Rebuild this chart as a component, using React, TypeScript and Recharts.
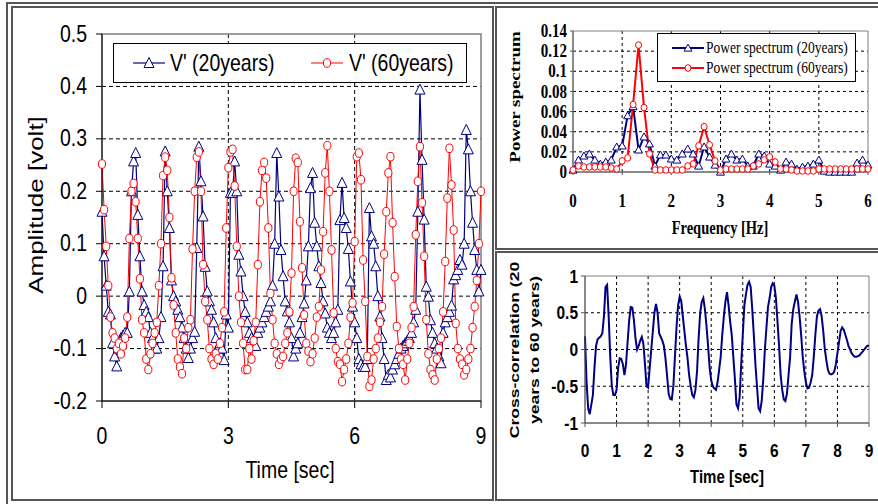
import React from "react";
import { LineChart, Line, XAxis, YAxis, CartesianGrid, Legend, ReferenceArea } from "recharts";

const SANS = "'Liberation Sans', Arial, Helvetica, sans-serif";
const SERIF = "'Liberation Serif', 'Times New Roman', serif";
const NAVY = "#000080";
const RED = "#ff0000";

const DT = 0.05; // sampling step [sec]
const DF = 1 / 9; // spectrum resolution [Hz]

// V' (20years), one value every 0.05 s from 0 to 9 s
const v20 = [
  0.161, 0.076, 0.02, -0.03, -0.035, -0.09, -0.115, -0.134, -0.1, -0.08,
  -0.075, -0.07, -0.07, 0.009, 0.2, 0.257, 0.273, 0.155, 0.076, 0.009,
  -0.017, -0.03, -0.04, -0.07, -0.08, -0.1, -0.1, -0.08, -0.04, 0.057,
  0.276, 0.2, 0.13, 0.03, 0.0, -0.01, -0.026, -0.04, -0.06, -0.08,
  -0.1, -0.118, -0.1, -0.08, -0.068, 0.092, 0.285, 0.219, 0.152, 0.056,
  0.009, -0.01, -0.026, -0.05, -0.08, -0.1, -0.09, -0.1, -0.122, -0.035,
  -0.06, 0.197, 0.197, 0.257, 0.2, 0.079, 0.047, 0.0, -0.03, -0.05,
  -0.07, -0.08, -0.09, -0.095, -0.07, -0.06, -0.05, -0.04, -0.03, -0.02,
  -0.01, 0.02, 0.1, 0.273, 0.19, 0.088, 0.038, -0.01, -0.029, -0.05,
  -0.08, -0.115, -0.1, -0.09, -0.07, -0.04, -0.014, 0.03, 0.095, 0.206,
  0.235, 0.14, 0.095, 0.057, 0.025, -0.01, -0.033, -0.06, -0.07, -0.08,
  -0.07, -0.05, -0.026, 0.145, 0.216, 0.149, 0.13, 0.09, 0.028, -0.02,
  -0.05, -0.08, -0.12, -0.13, -0.135, -0.135, -0.12, 0.168, 0.114, 0.1,
  0.057, 0.0, -0.039, -0.08, -0.12, -0.16, -0.15, -0.155, -0.14, -0.13,
  -0.12, -0.11, -0.1, -0.095, -0.09, -0.085, -0.08, -0.07, -0.05, -0.026,
  0.161, 0.394, 0.26, 0.146, 0.018, -0.001, -0.046, -0.07, -0.09, -0.1,
  -0.115, -0.128, -0.07, -0.05, -0.04, -0.03, -0.018, 0.032, 0.04, 0.05,
  0.069, 0.06, 0.1, 0.317, 0.28, 0.2, 0.14, 0.088, 0.05, 0.009,
  0.05,
];

// V' (60years)
const v60 = [
  0.252, 0.165, 0.095, 0.02, -0.04, -0.07, -0.08, -0.1, -0.09, -0.11,
  -0.095, -0.08, -0.04, 0.11, 0.2, 0.215, 0.18, 0.11, 0.033, -0.045,
  -0.07, -0.12, -0.14, -0.11, -0.09, -0.07, -0.05, 0.02, 0.1, 0.23,
  0.265, 0.24, 0.15, 0.035, -0.017, -0.07, -0.12, -0.135, -0.148, -0.08,
  -0.1, -0.06, -0.045, 0.09, 0.2, 0.265, 0.275, 0.2, 0.06, -0.01,
  -0.045, -0.1, -0.12, -0.13, -0.11, -0.12, -0.09, -0.06, -0.03, 0.13,
  0.245, 0.275, 0.28, 0.21, 0.095, 0.0, -0.05, -0.09, -0.14, -0.14,
  -0.1, -0.12, -0.085, -0.05, 0.06, 0.18, 0.24, 0.255, 0.225, 0.13,
  0.005, -0.045, -0.09, -0.11, -0.13, -0.12, -0.115, -0.09, -0.07, -0.03,
  0.044, 0.2, 0.263, 0.255, 0.142, 0.054, -0.036, -0.09, -0.105, -0.125,
  -0.11, -0.08, -0.04, -0.02, 0.05, 0.123, 0.235, 0.287, 0.2, 0.088,
  -0.032, -0.1, -0.125, -0.13, -0.163, -0.14, -0.12, -0.09, -0.04, -0.013,
  0.104, 0.266, 0.273, 0.222, 0.069, -0.01, -0.115, -0.172, -0.16, -0.12,
  -0.1, -0.08, -0.05, -0.02, 0.08, 0.161, 0.235, 0.266, 0.14, 0.037,
  -0.058, -0.1, -0.12, -0.13, -0.16, -0.12, -0.09, -0.06, -0.02, 0.117,
  0.219, 0.285, 0.178, 0.076, -0.045, -0.11, -0.14, -0.15, -0.16, -0.12,
  -0.1, -0.08, -0.03, 0.066, 0.187, 0.282, 0.212, 0.126, -0.052, -0.1,
  -0.12, -0.13, -0.15, -0.14, -0.12, -0.1, -0.06, -0.02, 0.03, 0.1,
  0.2,
];

// power spectrum, one value every 1/9 Hz from 0 to 6 Hz
const ps20 = [
  0.002, 0.012, 0.016, 0.018, 0.012, 0.008, 0.01, 0.012, 0.025, 0.026,
  0.056, 0.065, 0.022, 0.035, 0.028, 0.006, 0.017, 0.017, 0.013, 0.012,
  0.018, 0.023, 0.018, 0.006, 0.025, 0.015, 0.007, 0.0, 0.013, 0.018,
  0.012, 0.013, 0.006, 0.006, 0.018, 0.016, 0.008, 0.006, 0.002, 0.01,
  0.008, 0.003, 0.005, 0.006, 0.008, 0.012, 0.001, 0.0, 0.0, 0.0,
  0.0, 0.0, 0.009, 0.012, 0.007,
];
const ps60 = [
  0.002, 0.006, 0.005, 0.005, 0.005, 0.005, 0.005, 0.004, 0.003, 0.011,
  0.014, 0.067, 0.126, 0.064, 0.018, 0.002, 0.002, 0.002, 0.002, 0.002,
  0.002, 0.006, 0.008, 0.026, 0.045, 0.027, 0.011, 0.002, 0.003, 0.003,
  0.003, 0.003, 0.003, 0.006, 0.008, 0.012, 0.015, 0.01, 0.003, 0.003,
  0.002, 0.001, 0.001, 0.001, 0.001, 0.003, 0.003, 0.003, 0.003, 0.003,
  0.003, 0.003, 0.003, 0.003, 0.003,
];

// cross-correlation 20 years to 60 years, every 0.05 s
const xcorr = [
  0.18, -0.45, -0.8, -0.88, -0.75, -0.62, -0.25, 0.05, 0.14, 0.16,
  0.18, 0.22, 0.45, 0.85, 0.88, 0.45, -0.1, -0.5, -0.62, -0.62,
  -0.55, -0.25, -0.12, -0.13, -0.2, -0.35, -0.2, 0.1, 0.4, 0.58,
  0.57, 0.4, 0.15, 0.0, 0.05, 0.12, 0.17, 0.08, -0.2, -0.5,
  -0.52, -0.25, 0.0, 0.25, 0.5, 0.62, 0.5, 0.22, 0.17, 0.12,
  0.05, -0.12, -0.35, -0.6, -0.67, -0.68, -0.5, -0.1, 0.3, 0.6,
  0.72, 0.66, 0.45, 0.25, 0.05, -0.12, -0.35, -0.5, -0.62, -0.65,
  -0.55, -0.3, 0.15, 0.5, 0.65, 0.7, 0.55, 0.32, 0.05, -0.25,
  -0.42, -0.5, -0.53, -0.55, -0.45, -0.28, -0.1, 0.2, 0.45, 0.65,
  0.78, 0.6, 0.38, 0.2, -0.1, -0.4, -0.75, -0.8, -0.65, -0.2,
  0.2, 0.6, 0.75, 0.88, 0.92, 0.85, 0.55, 0.2, -0.2, -0.5,
  -0.8, -0.84, -0.7, -0.4, 0.0, 0.3, 0.58, 0.7, 0.85, 0.9,
  0.87, 0.7, 0.38, 0.05, -0.35, -0.55, -0.68, -0.7, -0.6, -0.35,
  -0.1, 0.35, 0.55, 0.65, 0.75, 0.65, 0.45, 0.2, -0.1, -0.3,
  -0.45, -0.53, -0.52, -0.45, -0.35, -0.1, 0.2, 0.45, 0.53, 0.55,
  0.45, 0.25, 0.0, -0.15, -0.28, -0.33, -0.34, -0.33, -0.3, -0.2,
  -0.05, 0.1, 0.25, 0.3, 0.27, 0.2, 0.13, 0.05, 0.0, -0.05,
  -0.08, -0.1, -0.1, -0.09, -0.08, -0.05, -0.03, 0.0, 0.03, 0.05,
  0.05,
];

const ampTicksX = [0, 3, 6, 9];
const ampTicksY = [-0.2, -0.1, 0, 0.1, 0.2, 0.3, 0.4, 0.5];
const psTicksX = [0, 1, 2, 3, 4, 5, 6];
const psTicksY = [0, 0.02, 0.04, 0.06, 0.08, 0.1, 0.12, 0.14];
const ccTicksX = [0, 1, 2, 3, 4, 5, 6, 7, 8, 9];
const ccTicksY = [-1, -0.5, 0, 0.5, 1];

const ampData = v20.map((v, i) => ({ t: +(i * DT).toFixed(2), v20: v, v60: v60[i] }));
const psData = ps20.map((v, i) => ({ f: i * DF, p20: v, p60: ps60[i] }));
const ccData = xcorr.map((v, i) => ({ t: +(i * DT).toFixed(2), r: v }));

const fmt = (v: number) => String(Number(v.toFixed(2)));

type TxtProps = {
  x: number;
  y: number;
  children: React.ReactNode;
  size: number;
  family?: string;
  bold?: boolean;
  anchor?: "start" | "middle" | "end";
  sx?: number;
  sy?: number;
  rot?: number;
};

// the source picture is stretched vertically, so text gets a scale
function Txt({ x, y, children, size, family = SANS, bold = false, anchor = "middle", sx = 1, sy = 1, rot = 0 }: TxtProps) {
  const tf = `translate(${x} ${y})${rot ? ` rotate(${rot})` : ""} scale(${sx} ${sy})`;
  return (
    <text
      transform={tf}
      textAnchor={anchor}
      dominantBaseline="central"
      fontFamily={family}
      fontSize={size}
      fontWeight={bold ? 700 : 400}
      fill="#000"
    >
      {children}
    </text>
  );
}

function Tri({ cx, cy, w, h, color }: { cx?: number; cy?: number; w: number; h: number; color: string }) {
  if (cx == null || cy == null) return null;
  const pts = `${cx},${cy - h * 0.55} ${cx + w / 2},${cy + h * 0.45} ${cx - w / 2},${cy + h * 0.45}`;
  return <polygon points={pts} fill="#fff" stroke={color} strokeWidth={1} />;
}

function Ring({ cx, cy, rx, ry, color }: { cx?: number; cy?: number; rx: number; ry: number; color: string }) {
  if (cx == null || cy == null) return null;
  return <ellipse cx={cx} cy={cy} rx={rx} ry={ry} fill="#fff" stroke={color} strokeWidth={1} />;
}

function AmpLegend() {
  return (
    <svg width={354} height={40} style={{ display: "block" }}>
      <rect x={0.5} y={0.5} width={353} height={39} fill="#fff" stroke="#000" />
      <line x1={20} x2={52} y1={20} y2={20} stroke={NAVY} strokeWidth={1.2} />
      <Tri cx={36} cy={20} w={10} h={10} color={NAVY} />
      <Txt x={57} y={20} anchor="start" size={19.5} sy={1.2}>V' (20years)</Txt>
      <line x1={198} x2={230} y1={20} y2={20} stroke={RED} />
      <Ring cx={214} cy={20} rx={3.6} ry={4.3} color={RED} />
      <Txt x={236} y={20} anchor="start" size={19.5} sy={1.2}>V' (60years)</Txt>
    </svg>
  );
}

function PsLegend() {
  return (
    <svg width={199} height={49} style={{ display: "block" }}>
      <rect x={0.5} y={0.5} width={198} height={48} fill="#fff" stroke="#000" />
      <line x1={15} x2={47} y1={15} y2={15} stroke={NAVY} strokeWidth={2} />
      <Tri cx={31} cy={15} w={8} h={7} color={NAVY} />
      <Txt x={49} y={15} anchor="start" size={13.5} family={SERIF} sy={1.2}>Power spectrum (20years)</Txt>
      <line x1={15} x2={47} y1={35} y2={35} stroke={RED} strokeWidth={2} />
      <Ring cx={31} cy={35} rx={3} ry={3.3} color={RED} />
      <Txt x={49} y={35} anchor="start" size={13.5} family={SERIF} sy={1.2}>Power spectrum (60years)</Txt>
    </svg>
  );
}

function AmplitudeChart() {
  return (
    <div style={{ position: "absolute", left: 12, top: 7 }}>
      <LineChart width={481} height={493} data={ampData} margin={{ top: 27, right: 12, bottom: 39, left: 0 }}>
        <CartesianGrid
          stroke="#000"
          strokeDasharray="4 3"
          horizontalValues={[-0.1, 0, 0.1, 0.2, 0.3, 0.4]}
          verticalValues={[3, 6]}
        />
        <ReferenceArea x1={0} x2={9} y1={-0.2} y2={0.5} fill="none" stroke="#7f7f7f" strokeWidth={1.5} />
        <XAxis
          type="number"
          dataKey="t"
          domain={[0, 9]}
          ticks={ampTicksX}
          interval={0}
          height={60}
          stroke="#000"
          tickSize={7}
          tickMargin={0}
          tick={(p: any) => (
            <Txt x={p.x} y={p.y + 28} size={19.5} sy={1.2}>{fmt(p.payload.value)}</Txt>
          )}
        />
        <YAxis
          type="number"
          domain={[-0.2, 0.5]}
          ticks={ampTicksY}
          interval={0}
          width={90}
          stroke="#000"
          tickSize={6}
          tickMargin={9}
          tick={(p: any) => (
            <Txt x={p.x} y={p.y} anchor="end" size={19.5} sy={1.2}>{fmt(p.payload.value)}</Txt>
          )}
        />
        <Legend
          verticalAlign="middle"
          align="center"
          wrapperStyle={{ left: 101, top: 36, width: 354, height: 40 }}
          content={() => <AmpLegend />}
        />
        <Line
          type="linear"
          dataKey="v20"
          name="V' (20years)"
          stroke={NAVY}
          strokeWidth={1.2}
          dot={(p: any) => <Tri key={`b${p.index}`} cx={p.cx} cy={p.cy} w={10} h={10} color={NAVY} />}
          activeDot={false}
          isAnimationActive={false}
        />
        <Line
          type="linear"
          dataKey="v60"
          name="V' (60years)"
          stroke={RED}
          strokeWidth={1}
          dot={(p: any) => <Ring key={`r${p.index}`} cx={p.cx} cy={p.cy} rx={3.6} ry={4.3} color={RED} />}
          activeDot={false}
          isAnimationActive={false}
        />
      </LineChart>
    </div>
  );
}

function SpectrumChart() {
  return (
    <div style={{ position: "absolute", left: 496, top: 7 }}>
      <LineChart width={382} height={241} data={psData} margin={{ top: 24, right: 10, bottom: 36, left: 0 }}>
        <CartesianGrid
          stroke="#000"
          strokeDasharray="3 3"
          horizontalValues={[0.02, 0.04, 0.06, 0.08, 0.1, 0.12]}
          verticalValues={[1, 2, 3, 4, 5]}
        />
        <ReferenceArea x1={0} x2={6} y1={0} y2={0.14} fill="none" stroke="#7f7f7f" strokeWidth={1} />
        <XAxis
          type="number"
          dataKey="f"
          domain={[0, 6]}
          ticks={psTicksX}
          interval={0}
          height={40}
          stroke="#555"
          tickSize={3}
          tickMargin={0}
          tick={(p: any) => (
            <Txt x={p.x} y={p.y + 26} size={15} family={SERIF} bold sy={1.28}>{fmt(p.payload.value)}</Txt>
          )}
        />
        <YAxis
          type="number"
          domain={[0, 0.14]}
          ticks={psTicksY}
          interval={0}
          width={77}
          stroke="#555"
          tickSize={3}
          tickMargin={3}
          tick={(p: any) => (
            <Txt x={p.x} y={p.y} anchor="end" size={15} family={SERIF} bold sy={1.28}>{fmt(p.payload.value)}</Txt>
          )}
        />
        <Legend
          verticalAlign="middle"
          align="center"
          wrapperStyle={{ left: 161, top: 26, width: 199, height: 49 }}
          content={() => <PsLegend />}
        />
        <Line
          type="linear"
          dataKey="p20"
          name="Power spectrum (20years)"
          stroke={NAVY}
          strokeWidth={2}
          dot={(p: any) => <Tri key={`pb${p.index}`} cx={p.cx} cy={p.cy} w={8} h={7} color={NAVY} />}
          activeDot={false}
          isAnimationActive={false}
        />
        <Line
          type="linear"
          dataKey="p60"
          name="Power spectrum (60years)"
          stroke={RED}
          strokeWidth={2}
          dot={(p: any) => <Ring key={`pr${p.index}`} cx={p.cx} cy={p.cy} rx={3} ry={3.3} color={RED} />}
          activeDot={false}
          isAnimationActive={false}
        />
      </LineChart>
    </div>
  );
}

function CorrelationChart() {
  return (
    <div style={{ position: "absolute", left: 496, top: 252 }}>
      <LineChart width={382} height={248} data={ccData} margin={{ top: 24, right: 9, bottom: 37, left: 0 }}>
        <CartesianGrid
          stroke="#000"
          strokeDasharray="3 3"
          horizontalValues={[-0.5, 0, 0.5]}
          verticalValues={[1, 2, 3, 4, 5, 6, 7, 8]}
        />
        <ReferenceArea x1={0} x2={9} y1={-1} y2={1} fill="none" stroke="#7f7f7f" strokeWidth={1} />
        <XAxis
          type="number"
          dataKey="t"
          domain={[0, 9]}
          ticks={ccTicksX}
          interval={0}
          height={40}
          stroke="#555"
          tickSize={4}
          tickMargin={0}
          tick={(p: any) => (
            <Txt x={p.x} y={p.y + 23} size={15.5} bold sy={1.22}>{fmt(p.payload.value)}</Txt>
          )}
        />
        <YAxis
          type="number"
          domain={[-1, 1]}
          ticks={ccTicksY}
          interval={0}
          width={89}
          stroke="#555"
          tickSize={4}
          tickMargin={3}
          tick={(p: any) => (
            <Txt x={p.x} y={p.y} anchor="end" size={15.5} bold sy={1.22}>{fmt(p.payload.value)}</Txt>
          )}
        />
        <Line
          type="linear"
          dataKey="r"
          name="Cross-correlation"
          stroke={NAVY}
          strokeWidth={2}
          dot={false}
          activeDot={false}
          isAnimationActive={false}
        />
      </LineChart>
    </div>
  );
}

function Titles() {
  return (
    <svg width={878} height={504} style={{ position: "absolute", left: 0, top: 0, pointerEvents: "none" }}>
      <Txt x={36} y={205} size={20} rot={-90} sx={1.3}>Amplitude [volt]</Txt>
      <Txt x={290} y={470} size={19.5} sy={1.2}>Time [sec]</Txt>
      <Txt x={515} y={97} size={15.5} family={SERIF} bold rot={-90} sx={1.22}>Power spectrum</Txt>
      <Txt x={720} y={228} size={14.5} family={SERIF} bold sy={1.24}>Frequency [Hz]</Txt>
      <Txt x={514} y={350} size={13} bold rot={-90} sx={1.35}>Cross-correlation (20</Txt>
      <Txt x={534} y={350} size={13} bold rot={-90} sx={1.35}>years to 60 years)</Txt>
      <Txt x={727} y={477} size={15} bold sy={1.22}>Time [sec]</Txt>
    </svg>
  );
}

const frame = "#555";

export default function App() {
  return (
    <div
      style={{
        position: "absolute",
        left: 0,
        top: 0,
        width: 878,
        height: 504,
        background: "#fff",
        overflow: "hidden",
        fontFamily: SANS,
      }}
    >
      <div style={{ position: "absolute", left: 6, top: 2, width: 900, height: 2, background: frame }} />
      <div style={{ position: "absolute", left: 6, top: 2, width: 2, height: 510, background: frame }} />
      <div style={{ position: "absolute", left: 11, top: 6, width: 483, height: 495, border: `2px solid ${frame}`, boxSizing: "border-box" }} />
      <div style={{ position: "absolute", left: 495, top: 6, width: 400, height: 244, border: `2px solid ${frame}`, boxSizing: "border-box" }} />
      <div style={{ position: "absolute", left: 495, top: 251, width: 400, height: 250, border: `2px solid ${frame}`, boxSizing: "border-box" }} />
      <AmplitudeChart />
      <SpectrumChart />
      <CorrelationChart />
      <Titles />
    </div>
  );
}
